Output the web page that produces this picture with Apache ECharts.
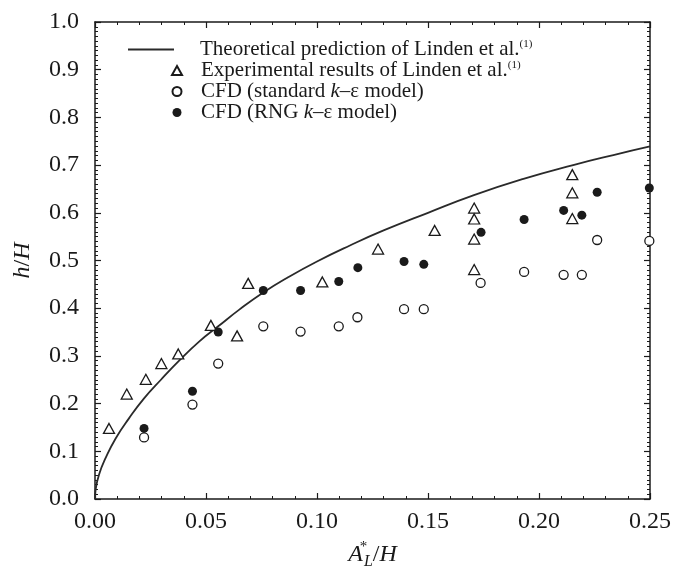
<!DOCTYPE html>
<html>
<head>
<meta charset="utf-8">
<script src="https://cdn.jsdelivr.net/npm/echarts@6/dist/echarts.min.js"></script>
<style>html,body{margin:0;padding:0;background:#fff;}#chart{width:690px;height:575px;}</style>
</head>
<body>
<div id="chart"></div>
<script>
// Theoretical prediction of Linden et al. (curve)
const theoryCurve = [
  [0.0000, 0.000], [0.0003, 0.020], [0.0018, 0.051], [0.0048, 0.086], [0.0093, 0.127],
  [0.0153, 0.169], [0.0221, 0.211], [0.0297, 0.250], [0.0379, 0.290], [0.0469, 0.330],
  [0.0555, 0.362], [0.0650, 0.397], [0.0758, 0.433], [0.0870, 0.465], [0.1000, 0.498],
  [0.1146, 0.531], [0.1300, 0.563], [0.1500, 0.600], [0.1707, 0.637], [0.1930, 0.671],
  [0.2154, 0.700], [0.2335, 0.721], [0.2500, 0.739]
];
// Experimental results of Linden et al.
const experimental = [
  [0.0063, 0.148], [0.0143, 0.220], [0.0229, 0.251], [0.0299, 0.284], [0.0375, 0.304],
  [0.0522, 0.364], [0.0640, 0.342], [0.0690, 0.452], [0.1024, 0.455], [0.1275, 0.524],
  [0.1530, 0.563], [0.1708, 0.610], [0.1708, 0.587], [0.1708, 0.545], [0.1708, 0.481],
  [0.2150, 0.680], [0.2150, 0.642], [0.2150, 0.588]
];
// CFD (standard k-e model)
const cfdStandard = [
  [0.0221, 0.129], [0.0439, 0.198], [0.0555, 0.284], [0.0758, 0.362], [0.0926, 0.351],
  [0.1098, 0.362], [0.1182, 0.381], [0.1392, 0.398], [0.1481, 0.398], [0.1737, 0.453],
  [0.1933, 0.476], [0.2111, 0.470], [0.2193, 0.470], [0.2262, 0.543], [0.2497, 0.541]
];
// CFD (RNG k-e model)
const cfdRNG = [
  [0.0221, 0.148], [0.0439, 0.226], [0.0555, 0.350], [0.0758, 0.437], [0.0926, 0.437],
  [0.1098, 0.456], [0.1184, 0.485], [0.1392, 0.498], [0.1481, 0.492], [0.1739, 0.559],
  [0.1933, 0.586], [0.2111, 0.605], [0.2193, 0.595], [0.2262, 0.643], [0.2497, 0.652]
];

const FONT = 'Liberation Serif';
const INK = '#1a1a1a';

const chart = echarts.init(document.getElementById('chart'), null, {renderer: 'canvas'});

const LF = 21;
const rich = {
  n: {fontFamily: FONT, fontSize: LF, color: INK, lineHeight: LF},
  i: {fontFamily: FONT, fontSize: LF, color: INK, fontStyle: 'italic', lineHeight: LF},
  sup: {fontFamily: FONT, fontSize: 11, color: INK, lineHeight: LF, verticalAlign: 'top', padding: [0, 0, 8, 0]}
};

const legendText = {
  'Theoretical': '{n|Theoretical prediction of Linden et al.}{sup|(1)}',
  'Experimental': '{n|Experimental results of Linden et al.}{sup|(1)}',
  'Standard': '{n|CFD (standard }{i|k}{n|\u2013\u03b5 model)}',
  'RNG': '{n|CFD (RNG }{i|k}{n|\u2013\u03b5 model)}'
};

const xAxisBase = {
  type: 'value', min: 0, max: 0.25, interval: 0.05,
  axisLine: {show: true, onZero: false, lineStyle: {color: INK, width: 1.5}},
  axisTick: {show: true, inside: true, length: 6, lineStyle: {color: INK, width: 1.2}},
  minorTick: {show: true, splitNumber: 5, length: 3, lineStyle: {color: INK, width: 1}},
  splitLine: {show: false}
};
const yAxisBase = {
  type: 'value', min: 0, max: 1, interval: 0.1,
  axisLine: {show: true, onZero: false, lineStyle: {color: INK, width: 1.5}},
  axisTick: {show: true, inside: true, length: 6, lineStyle: {color: INK, width: 1.2}},
  minorTick: {show: true, splitNumber: 10, length: 3, lineStyle: {color: INK, width: 1}},
  splitLine: {show: false}
};

chart.setOption({
  backgroundColor: '#fff',
  animation: false,
  grid: {left: 95, right: 40, top: 22, bottom: 74, containLabel: false},
  legend: [
    {
      data: [{name: 'Theoretical', icon: 'rect', itemStyle: {color: '#2a2a2a'}}],
      orient: 'vertical', left: 128, top: 39, padding: 0,
      itemWidth: 46, itemHeight: 2, itemGap: 0,
      formatter: n => legendText[n],
      textStyle: {fontFamily: FONT, fontSize: LF, color: INK, lineHeight: LF, padding: [0, 0, 0, 21], rich: rich}
    },
    {
      data: ['Experimental', 'Standard', 'RNG'], orient: 'vertical', left: 171, top: 60, padding: 0,
      itemWidth: 10, itemHeight: 9, itemGap: 0,
      formatter: n => legendText[n],
      textStyle: {fontFamily: FONT, fontSize: LF, color: INK, lineHeight: LF, padding: [0, 0, 0, 14], rich: rich}
    }
  ],
  xAxis: [
    Object.assign({}, xAxisBase, {
      position: 'bottom',
      axisLabel: {show: true, margin: 11, fontFamily: FONT, fontSize: 24, color: INK, formatter: v => v.toFixed(2)},
      name: '{a|A}{s|*}{b|L}{c|/}{a|H}',
      nameLocation: 'middle', nameGap: 41,
      nameTextStyle: {
        rich: {
          a: {fontFamily: FONT, fontSize: 24, fontStyle: 'italic', color: INK, lineHeight: 30},
          s: {fontFamily: FONT, fontSize: 15, color: INK, lineHeight: 30, verticalAlign: 'top', width: 1},
          b: {fontFamily: FONT, fontSize: 16, fontStyle: 'italic', color: INK, lineHeight: 30, verticalAlign: 'bottom'},
          c: {fontFamily: FONT, fontSize: 24, color: INK, lineHeight: 30}
        }
      }
    }),
    Object.assign({}, xAxisBase, {position: 'top', axisLabel: {show: false}})
  ],
  yAxis: [
    Object.assign({}, yAxisBase, {
      position: 'left',
      axisLabel: {show: true, margin: 16, fontFamily: FONT, fontSize: 24, color: INK, formatter: v => v.toFixed(1)},
      name: '{a|h}{c|/}{a|H}',
      nameLocation: 'middle', nameGap: 60, nameRotate: 90,
      nameTextStyle: {
        rich: {
          a: {fontFamily: FONT, fontSize: 24, fontStyle: 'italic', color: INK},
          c: {fontFamily: FONT, fontSize: 24, color: INK}
        }
      }
    }),
    Object.assign({}, yAxisBase, {position: 'right', axisLabel: {show: false}})
  ],
  series: [
    {
      name: 'Theoretical', type: 'line', data: theoryCurve, smooth: 0.5,
      symbol: 'none', showSymbol: false,
      lineStyle: {color: '#2a2a2a', width: 1.8}, itemStyle: {color: '#2a2a2a'},
      z: 2
    },
    {
      name: 'Experimental', type: 'scatter', data: experimental,
      symbol: 'triangle', symbolSize: [11, 10],
      itemStyle: {color: '#fff', borderColor: INK, borderWidth: 1.3, opacity: 1},
      z: 3
    },
    {
      name: 'Standard', type: 'scatter', data: cfdStandard,
      symbol: 'circle', symbolSize: 9,
      itemStyle: {color: '#fff', borderColor: INK, borderWidth: 1.3, opacity: 1},
      z: 3
    },
    {
      name: 'RNG', type: 'scatter', data: cfdRNG,
      symbol: 'circle', symbolSize: 9,
      itemStyle: {color: INK, borderColor: INK, borderWidth: 0, opacity: 1},
      z: 4
    }
  ]
});
</script>
</body>
</html>
